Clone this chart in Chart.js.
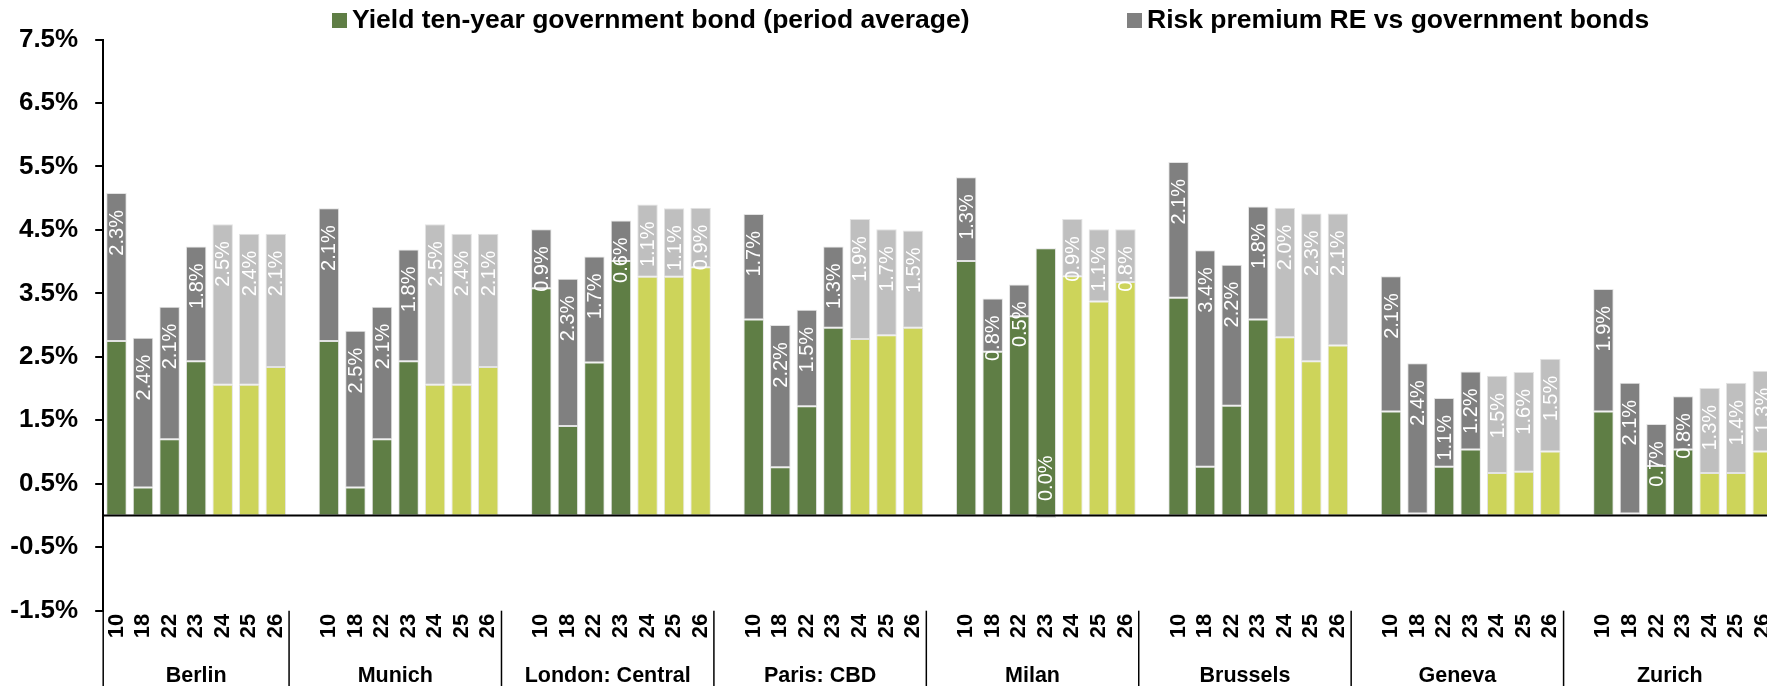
<!DOCTYPE html>
<html><head><meta charset="utf-8">
<script src="https://cdn.jsdelivr.net/npm/chart.js@4.4.1/dist/chart.umd.min.js"></script>
<style>
html,body{margin:0;padding:0;background:#fff;overflow:hidden;}
#wrap{position:relative;width:1776px;height:686px;}
</style></head><body>
<div id="wrap"><canvas id="c"></canvas></div>
<script>
// ---- data ----
const years = ['10','18','22','23','24','25','26'];
const forecastYears = ['24','25','26'];
const cities = ['Berlin','Munich','London: Central','Paris: CBD','Milan','Brussels','Geneva','Zurich'];
const yieldBerlin    = [2.75,0.44,1.20,2.43,2.06,2.06,2.34];
const premiumBerlin  = [2.33,2.36,2.09,1.81,2.53,2.38,2.10];
const yieldMunich    = [2.75,0.44,1.20,2.43,2.06,2.06,2.34];
const premiumMunich  = [2.09,2.47,2.09,1.76,2.53,2.38,2.10];
const yieldLondon    = [3.58,1.41,2.41,4.01,3.76,3.76,3.91];
const premiumLondon  = [0.93,2.32,1.67,0.64,1.14,1.08,0.94];
const yieldParis     = [3.09,0.76,1.72,2.96,2.78,2.84,2.96];
const premiumParis   = [1.66,2.24,1.52,1.28,1.89,1.67,1.53];
const yieldMilan     = [4.01,2.58,3.14,4.21,3.77,3.37,3.68];
const premiumMilan   = [1.32,0.84,0.50,-0.04,0.90,1.14,0.83];
const yieldBrussels  = [3.43,0.77,1.73,3.09,2.81,2.43,2.68];
const premiumBrussels= [2.14,3.41,2.22,1.78,2.04,2.33,2.08];
const yieldGeneva    = [1.64,0.03,0.77,1.04,0.67,0.69,1.01];
const premiumGeneva  = [2.13,2.37,1.08,1.23,1.53,1.57,1.46];
const yieldZurich    = [1.64,0.03,0.78,1.04,0.67,0.67,1.01];
const premiumZurich  = [1.93,2.06,0.66,0.84,1.34,1.42,1.27];
const yTickMin = -1.5, yTickMax = 7.5, yTickStep = 1;
const legendLabels = ['Yield ten-year government bond (period average)','Risk premium RE vs government bonds'];

const yieldRows   = [yieldBerlin,yieldMunich,yieldLondon,yieldParis,yieldMilan,yieldBrussels,yieldGeneva,yieldZurich];
const premiumRows = [premiumBerlin,premiumMunich,premiumLondon,premiumParis,premiumMilan,premiumBrussels,premiumGeneva,premiumZurich];

// ---- build flat category axis (blank slot between cities) ----
const labels = [], yieldData = [], premiumData = [], isForecast = [], gapIdx = [];
cities.forEach((c, ci) => {
  if (ci > 0) { gapIdx.push(labels.length); labels.push(''); yieldData.push(null); premiumData.push(null); isForecast.push(false); }
  years.forEach((yr, yi) => {
    labels.push(yr);
    yieldData.push(yieldRows[ci][yi]);
    premiumData.push(premiumRows[ci][yi]);
    isForecast.push(forecastYears.includes(yr));
  });
});

const GREEN = '#5F7E45', YGREEN = '#CDD45A', DGRAY = '#808080', LGRAY = '#BFBFBF';
const FONT = "'Liberation Sans', Arial, sans-serif";

const fmt = v => { let r = Math.round(v * 10) / 10; if (r === 0) r = 0; return r.toFixed(1) + '%'; };

const overlay = {
  id: 'overlay',
  afterDatasetsDraw(chart) {
    const ctx = chart.ctx, ca = chart.chartArea, ys = chart.scales.y;
    const y0 = ys.getPixelForValue(0);
    ctx.save();
    ctx.strokeStyle = '#000'; ctx.lineWidth = 2;
    ctx.beginPath(); ctx.moveTo(ca.left, y0); ctx.lineTo(ca.right, y0); ctx.stroke();
    const meta = chart.getDatasetMeta(1);
    ctx.fillStyle = '#fff';
    ctx.font = '20px ' + FONT;
    ctx.textBaseline = 'middle';
    meta.data.forEach((el, i) => {
      const v = premiumData[i];
      if (v === null || v === undefined) return;
      const pad = 17;
      ctx.save();
      if (v >= 0) {
        ctx.translate(el.x + 1, el.y + pad);
        ctx.rotate(-Math.PI / 2);
        ctx.textAlign = 'right';
      } else {
        ctx.translate(el.x + 1, el.y - pad);
        ctx.rotate(-Math.PI / 2);
        ctx.textAlign = 'left';
      }
      ctx.fillText(fmt(v), 0, 0);
      ctx.restore();
    });
    ctx.restore();
  },
  afterDraw(chart) {
    const ctx = chart.ctx, ca = chart.chartArea, xs = chart.scales.x;
    const slot = xs.getPixelForValue(1) - xs.getPixelForValue(0);
    const H = chart.height;
    ctx.save();
    ctx.strokeStyle = '#000'; ctx.lineWidth = 1.5;
    ctx.beginPath(); ctx.moveTo(ca.left, ca.bottom); ctx.lineTo(ca.left, H); ctx.stroke();
    const bounds = [ca.left];
    gapIdx.forEach(g => {
      const x = xs.getPixelForValue(g) - slot / 2;
      bounds.push(x);
      ctx.beginPath(); ctx.moveTo(x, ca.bottom); ctx.lineTo(x, H); ctx.stroke();
    });
    bounds.push(ca.right);
    ctx.fillStyle = '#000';
    ctx.font = 'bold 21.5px ' + FONT;
    ctx.textAlign = 'center'; ctx.textBaseline = 'middle';
    cities.forEach((c, i) => {
      ctx.fillText(c, (bounds[i] + bounds[i + 1]) / 2, 676);
    });
    const items = [{x: 332, color: GREEN}, {x: 1127, color: DGRAY}];
    ctx.font = 'bold 26.5px ' + FONT;
    ctx.textAlign = 'left';
    items.forEach((it, i) => {
      ctx.fillStyle = it.color;
      ctx.fillRect(it.x, 13, 15, 15);
      ctx.fillStyle = '#000';
      ctx.fillText(legendLabels[i], it.x + 20, 21);
    });
    ctx.restore();
  }
};

new Chart(document.getElementById('c'), {
  type: 'bar',
  data: {
    labels,
    datasets: [
      { label: legendLabels[0], data: yieldData,
        backgroundColor: yieldData.map((_, i) => isForecast[i] ? YGREEN : GREEN),
        borderColor: 'rgba(215,215,215,0.7)', borderWidth: 1, borderSkipped: false },
      { label: legendLabels[1], data: premiumData,
        backgroundColor: premiumData.map((_, i) => isForecast[i] ? LGRAY : DGRAY),
        borderColor: 'rgba(215,215,215,0.7)', borderWidth: 1, borderSkipped: false }
    ]
  },
  options: {
    responsive: true, maintainAspectRatio: false, animation: false,
    datasets: { bar: { categoryPercentage: 1, barPercentage: 0.77 } },
    layout: { padding: { left: 0, top: 39.5, right: 0, bottom: 35 } },
    plugins: { legend: { display: false }, tooltip: { enabled: false } },
    scales: {
      x: {
        stacked: true,
        grid: { display: false, drawTicks: false },
        border: { display: false },
        ticks: { autoSkip: false, maxRotation: 90, minRotation: 90, padding: 3,
                 color: '#000', font: { family: FONT, size: 22, weight: 'bold' } },
        afterFit: s => { s.height = 40.3; s.paddingLeft = 0; s.paddingRight = 0; }
      },
      y: {
        stacked: true, min: yTickMin, max: yTickMax,
        grid: { drawOnChartArea: false, drawTicks: true, tickLength: 8, color: '#000', lineWidth: 2 },
        border: { display: true, color: '#000', width: 2 },
        ticks: { stepSize: yTickStep, padding: 17, color: '#000',
                 font: { family: FONT, size: 26, weight: 'bold' },
                 callback: v => v.toFixed(1) + '%' },
        afterFit: s => { s.width = 103.2; s.paddingTop = 0; s.paddingBottom = 0; }
      }
    }
  },
  plugins: [overlay]
});
</script>
</body></html>
